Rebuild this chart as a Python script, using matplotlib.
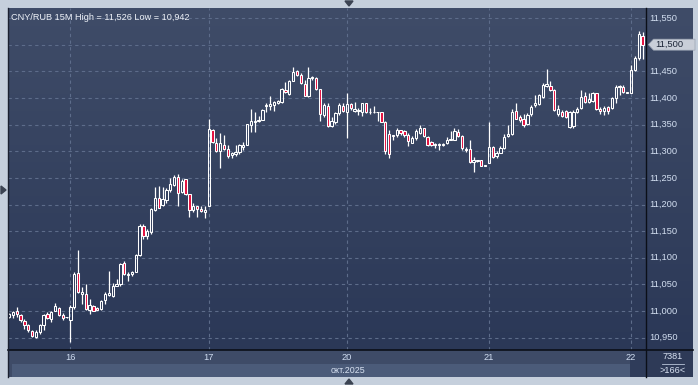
import matplotlib
matplotlib.use('Agg')
import matplotlib.pyplot as plt
import numpy as np
from matplotlib.patches import Polygon
from matplotlib import transforms
from matplotlib.colors import LinearSegmentedColormap

plt.rcParams['font.family'] = ['Liberation Sans', 'DejaVu Sans']

# ---------------- data (CNY/RUB, 15M candles) ----------------
opens = [10.989, 10.992, 11.001, 10.993, 10.982, 10.973, 10.962, 10.951, 10.961, 10.973,
         10.995, 10.986, 11.001, 11.006, 10.993, 10.988, 10.984, 11.007, 11.072, 11.033,
         11.033, 11.003, 11.010, 11.006, 11.004, 11.021, 11.031, 11.029, 11.048, 11.051,
         11.091, 11.068, 11.070, 11.074, 11.106, 11.160, 11.140, 11.148, 11.190, 11.213,
         11.200, 11.208, 11.227, 11.236, 11.252, 11.224, 11.247, 11.219, 11.190, 11.197,
         11.191, 11.186, 11.198, 11.340, 11.316, 11.300, 11.312, 11.305, 11.293, 11.295,
         11.298, 11.308, 11.312, 11.350, 11.355, 11.356, 11.359, 11.384, 11.385, 11.387,
         11.391, 11.393, 11.415, 11.408, 11.432, 11.451, 11.444, 11.427, 11.404, 11.437,
         11.437, 11.417, 11.368, 11.384, 11.348, 11.354, 11.371, 11.385, 11.374, 11.388,
         11.376, 11.376, 11.374, 11.390, 11.374, 11.373, 11.374, 11.373, 11.354, 11.333,
         11.328, 11.330, 11.340, 11.338, 11.330, 11.316, 11.324, 11.335, 11.343, 11.327,
         11.318, 11.313, 11.311, 11.312, 11.315, 11.321, 11.322, 11.337, 11.328, 11.305,
         11.305, 11.280, 11.282, 11.283, 11.273, 11.278, 11.308, 11.291, 11.297, 11.307,
         11.328, 11.332, 11.375, 11.365, 11.361, 11.351, 11.369, 11.387, 11.388, 11.402,
         11.423, 11.423, 11.415, 11.369, 11.373, 11.375, 11.346, 11.348, 11.373, 11.382,
         11.404, 11.392, 11.394, 11.409, 11.380, 11.375, 11.383, 11.381, 11.399, 11.420,
         11.420, 11.410, 11.410, 11.453, 11.475, 11.516]
highs = [10.996, 11.001, 11.007, 10.995, 10.986, 10.975, 10.965, 10.964, 10.976, 10.995,
         10.998, 11.001, 11.016, 11.007, 10.996, 10.989, 11.011, 11.073, 11.114, 11.046,
         11.050, 11.022, 11.011, 11.007, 11.020, 11.036, 11.075, 11.053, 11.061, 11.090,
         11.094, 11.073, 11.076, 11.107, 11.163, 11.163, 11.155, 11.193, 11.232, 11.234,
         11.232, 11.231, 11.249, 11.255, 11.257, 11.247, 11.248, 11.220, 11.202, 11.198,
         11.197, 11.197, 11.361, 11.342, 11.325, 11.334, 11.331, 11.311, 11.298, 11.312,
         11.313, 11.317, 11.352, 11.379, 11.373, 11.367, 11.379, 11.391, 11.403, 11.395,
         11.396, 11.418, 11.430, 11.434, 11.458, 11.453, 11.447, 11.434, 11.458, 11.442,
         11.439, 11.417, 11.391, 11.391, 11.364, 11.374, 11.390, 11.391, 11.410, 11.390,
         11.393, 11.382, 11.391, 11.391, 11.382, 11.384, 11.374, 11.374, 11.357, 11.340,
         11.330, 11.343, 11.340, 11.339, 11.335, 11.328, 11.341, 11.349, 11.344, 11.328,
         11.319, 11.316, 11.316, 11.316, 11.327, 11.338, 11.344, 11.341, 11.330, 11.308,
         11.321, 11.289, 11.284, 11.284, 11.274, 11.354, 11.309, 11.301, 11.310, 11.332,
         11.349, 11.379, 11.390, 11.368, 11.369, 11.371, 11.387, 11.406, 11.407, 11.428,
         11.455, 11.431, 11.416, 11.387, 11.377, 11.377, 11.375, 11.377, 11.383, 11.415,
         11.412, 11.409, 11.412, 11.410, 11.383, 11.385, 11.385, 11.402, 11.424, 11.424,
         11.424, 11.411, 11.462, 11.478, 11.526, 11.524]
lows = [10.987, 10.987, 10.989, 10.979, 10.967, 10.961, 10.951, 10.950, 10.957, 10.964,
        10.986, 10.979, 11.000, 10.991, 10.984, 10.987, 10.942, 11.004, 11.034, 11.014,
        11.003, 10.994, 11.000, 11.002, 11.003, 11.014, 11.029, 11.026, 11.047, 11.048,
        11.067, 11.056, 11.065, 11.073, 11.104, 11.135, 11.135, 11.145, 11.188, 11.193,
        11.197, 11.202, 11.224, 11.234, 11.197, 11.221, 11.217, 11.177, 11.186, 11.176,
        11.186, 11.174, 11.197, 11.315, 11.298, 11.269, 11.302, 11.288, 11.288, 11.292,
        11.295, 11.302, 11.311, 11.336, 11.336, 11.355, 11.359, 11.374, 11.378, 11.376,
        11.389, 11.391, 11.410, 11.406, 11.431, 11.442, 11.427, 11.403, 11.401, 11.434,
        11.415, 11.357, 11.365, 11.346, 11.346, 11.351, 11.368, 11.374, 11.325, 11.378,
        11.374, 11.368, 11.366, 11.371, 11.370, 11.372, 11.357, 11.354, 11.294, 11.287,
        11.321, 11.327, 11.330, 11.327, 11.310, 11.315, 11.322, 11.333, 11.327, 11.310,
        11.310, 11.307, 11.302, 11.310, 11.313, 11.321, 11.321, 11.326, 11.302, 11.299,
        11.278, 11.261, 11.279, 11.272, 11.272, 11.277, 11.287, 11.288, 11.296, 11.305,
        11.326, 11.330, 11.360, 11.355, 11.346, 11.349, 11.366, 11.383, 11.387, 11.400,
        11.421, 11.413, 11.375, 11.366, 11.364, 11.363, 11.343, 11.343, 11.371, 11.380,
        11.390, 11.390, 11.393, 11.377, 11.369, 11.368, 11.369, 11.379, 11.390, 11.406,
        11.409, 11.409, 11.409, 11.450, 11.472, 11.474]
closes = [10.994, 10.998, 10.995, 10.983, 10.973, 10.964, 10.953, 10.961, 10.973, 10.993,
          10.987, 10.999, 11.009, 10.993, 10.987, 10.988, 11.007, 11.070, 11.036, 11.036,
          11.004, 11.012, 11.001, 11.003, 11.019, 11.033, 11.034, 11.048, 11.051, 11.089,
          11.069, 11.070, 11.074, 11.106, 11.160, 11.140, 11.150, 11.191, 11.213, 11.194,
          11.210, 11.227, 11.239, 11.252, 11.222, 11.245, 11.219, 11.190, 11.197, 11.191,
          11.188, 11.189, 11.342, 11.317, 11.300, 11.315, 11.305, 11.292, 11.296, 11.298,
          11.311, 11.312, 11.351, 11.356, 11.357, 11.359, 11.378, 11.387, 11.388, 11.393,
          11.395, 11.417, 11.411, 11.432, 11.449, 11.444, 11.428, 11.404, 11.437, 11.440,
          11.417, 11.369, 11.387, 11.347, 11.357, 11.371, 11.386, 11.376, 11.388, 11.381,
          11.379, 11.377, 11.390, 11.373, 11.373, 11.374, 11.373, 11.355, 11.301, 11.294,
          11.330, 11.340, 11.335, 11.330, 11.320, 11.324, 11.338, 11.343, 11.328, 11.311,
          11.311, 11.311, 11.313, 11.313, 11.322, 11.323, 11.338, 11.328, 11.307, 11.303,
          11.280, 11.283, 11.282, 11.273, 11.273, 11.308, 11.289, 11.296, 11.307, 11.327,
          11.332, 11.374, 11.361, 11.358, 11.350, 11.368, 11.383, 11.390, 11.406, 11.424,
          11.426, 11.415, 11.377, 11.380, 11.366, 11.364, 11.373, 11.373, 11.380, 11.402,
          11.393, 11.398, 11.410, 11.380, 11.375, 11.381, 11.376, 11.399, 11.421, 11.423,
          11.412, 11.410, 11.453, 11.475, 11.520, 11.500]

day_labels = ['16', '17', '20', '21', '22']
day_start_index = [16, 52, 88, 125, 162]
price_ticks = [10.95, 11.00, 11.05, 11.10, 11.15, 11.20, 11.25, 11.30, 11.35, 11.40, 11.45, 11.50, 11.55]
title_text = 'CNY/RUB 15M High = 11,526 Low = 10,942'
month_label = 'окт.2025'
bars_total = '7381'
bars_visible = '>166<'

# ---------------- layout ----------------
W, H = 698, 385
fig = plt.figure(figsize=(W / 100, H / 100), dpi=100)
fig.patch.set_facecolor('#c5cfdc')

def fx(px):
    return px / W

def fy(py):
    return 1 - py / H

YMIN, YMAX = 10.927, 11.5688
XMIN, XMAX = -0.26, 165.9

grad_cmap = LinearSegmentedColormap.from_list('bg', ['#2b3857', '#3f4c68'])
grad = np.linspace(0, 1, 256).reshape(-1, 1)

L, R, T, B = 8, 646, 8, 350
ax = fig.add_axes([fx(L), fy(B), fx(R) - fx(L), fy(T) - fy(B)])
ax.imshow(grad, extent=[0, 1, 0, 1], transform=ax.transAxes, aspect='auto',
          cmap=grad_cmap, origin='lower', zorder=0)
ax.set_xlim(XMIN, XMAX)
ax.set_ylim(YMIN, YMAX)
ax.set_autoscale_on(False)
for s in ax.spines.values():
    s.set_visible(False)
ax.set_xticks([])
ax.set_yticks([])

grid_kw = dict(color='#5d6c8a', lw=0.8, dashes=(3, 3), zorder=1)
for v in price_ticks:
    ax.axhline(v, **grid_kw)
for d in day_start_index:
    ax.axvline(d, **grid_kw)

o = np.array(opens); c = np.array(closes); h = np.array(highs); lo = np.array(lows)
idx = np.arange(len(o))
up = c >= o
bhi = np.maximum(o, c)
blo = np.minimum(o, c)
ax.vlines(idx, bhi, h, color='white', lw=0.9, zorder=3)
ax.vlines(idx, lo, blo, color='white', lw=0.9, zorder=3)
heights = np.maximum(bhi - blo, 0.0007)
faces = ['none' if u else '#e3103f' for u in up]
ax.bar(idx, heights, bottom=blo, width=0.6, color=faces, edgecolor='white',
       linewidth=0.75, zorder=4)

ax.text(0.004, 0.985, title_text, transform=ax.transAxes, ha='left', va='top',
        color='#eef2f8', fontsize=6.6, zorder=6)

# ---------------- right price panel ----------------
RP = 693
last = closes[-1]
axr = fig.add_axes([fx(R), fy(B), fx(RP) - fx(R), fy(T) - fy(B)])
axr.imshow(grad, extent=[0, 1, 0, 1], transform=axr.transAxes, aspect='auto',
           cmap=grad_cmap, origin='lower', zorder=0)
axr.set_xlim(0, 1)
axr.set_ylim(YMIN, YMAX)
axr.set_autoscale_on(False)
axr.set_xticks([]); axr.set_yticks([])
for s in axr.spines.values():
    s.set_visible(False)
for v in price_ticks:
    if abs(v - last) < 0.005:
        continue  # covered by the last-price marker
    axr.text(0.075, v, f'{v:.3f}'.replace('.', ','), ha='left', va='center',
             color='#d2def0', fontsize=6.7)

# last price marker
ydisp = ax.transData.transform((0, last))[1]
hh = 5.5
poly = Polygon([(648.3, ydisp), (653.5, ydisp + hh), (695, ydisp + hh),
                (695, ydisp - hh), (653.5, ydisp - hh)], closed=True,
               transform=transforms.IdentityTransform(), facecolor='#c9ced8',
               edgecolor='#9aa3b2', lw=0.5, zorder=10)
fig.add_artist(poly)
fig.text(fx(655), ydisp / H, f'{last:.3f}'.replace('.', ','), ha='left', va='center',
         color='#1b2436', fontsize=6.7, zorder=11)

# ---------------- bottom time panel ----------------
BB = 377
axb = fig.add_axes([fx(L), fy(BB), fx(R) - fx(L), fy(B) - fy(BB)])
axb.set_xlim(XMIN, XMAX)
axb.set_ylim(0, 1)
axb.set_autoscale_on(False)
axb.set_facecolor('#3e4b67')
axb.set_xticks([]); axb.set_yticks([])
for s in axb.spines.values():
    s.set_visible(False)
lower_split = (BB - 364) / (BB - B)
x12 = XMIN + (12 - L) / (R - L) * (XMAX - XMIN)
axb.fill_between([x12, XMAX], 0, lower_split, color='#4b5b79', lw=0)
xthumb = XMIN + (630 - L) / (R - L) * (XMAX - XMIN)
axb.fill_between([xthumb, XMAX], 0, 1, color='#2f3c5a', lw=0)
for d, lab in zip(day_start_index, day_labels):
    axb.text(d, 0.74, lab, ha='center', va='center', color='#cfdcf0', fontsize=6.7)
fig.text(fx(348), fy(370.5), month_label, ha='center', va='center',
         color='#d8e2f2', fontsize=6.4)

# bottom-right counter box
axc = fig.add_axes([fx(R), fy(BB), fx(RP) - fx(R), fy(B) - fy(BB)])
axc.set_xlim(0, 1); axc.set_ylim(0, 1)
axc.set_autoscale_on(False)
axc.set_facecolor('#2e3a57')
axc.set_xticks([]); axc.set_yticks([])
for s in axc.spines.values():
    s.set_visible(False)
axc.text(0.56, 0.75, bars_total, transform=axc.transAxes, ha='center', va='center',
         color='#d8e2f2', fontsize=6.6)
axc.plot([0.33, 0.80], [0.47, 0.47], transform=axc.transAxes, color='#b8c4d8', lw=0.6)
axc.text(0.56, 0.25, bars_visible, transform=axc.transAxes, ha='center', va='center',
         color='#d8e2f2', fontsize=6.6)

# frame lines
fig.add_artist(plt.Line2D([fx(L), fx(RP)], [fy(B), fy(B)], color='#0b0f18', lw=1.2))
fig.add_artist(plt.Line2D([fx(R), fx(R)], [fy(T), fy(BB)], color='#0b0f18', lw=1.0))
fig.add_artist(plt.Line2D([fx(L), fx(L)], [fy(T), fy(BB)], color='#1a2030', lw=1.0))

# small navigation triangles
tri_c = '#3b4352'
fig.add_artist(Polygon([(fx(345), fy(1)), (fx(353), fy(1)), (fx(349), fy(6))],
                       closed=True, transform=fig.transFigure, color=tri_c))
fig.add_artist(Polygon([(fx(345), fy(384)), (fx(353), fy(384)), (fx(349), fy(379))],
                       closed=True, transform=fig.transFigure, color=tri_c))
fig.add_artist(Polygon([(fx(1), fy(186)), (fx(1), fy(194)), (fx(6), fy(190))],
                       closed=True, transform=fig.transFigure, color=tri_c))

fig.savefig('out.png', dpi=100, facecolor=fig.get_facecolor())
